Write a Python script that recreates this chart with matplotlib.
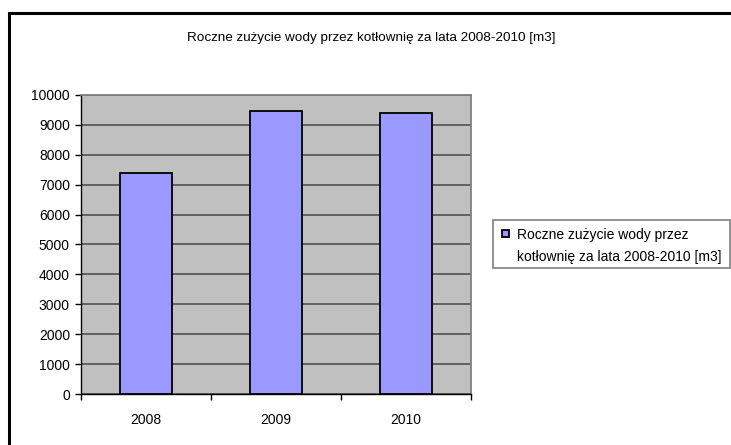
import matplotlib
matplotlib.use("Agg")
import matplotlib.pyplot as plt
from matplotlib.patches import Rectangle

plt.rcParams['font.family'] = ['Liberation Sans', 'DejaVu Sans']

years = ["2008", "2009", "2010"]
usage = [7380, 9460, 9400]
title = "Roczne zużycie wody przez kotłownię za lata 2008-2010 [m3]"
legend_lines = ["Roczne zużycie wody przez", "kotłownię za lata 2008-2010 [m3]"]
y_ticks = list(range(0, 10001, 1000))
bar_color = "#9999ff"

W, H = 731, 445
fig = plt.figure(figsize=(W / 100, H / 100), dpi=100)
fig.patch.set_facecolor("white")


def px(x0, y0):
    """Pixel position (from top-left) to figure fraction."""
    return x0 / W, 1 - y0 / H


# outer chart frame (only top and left edges fall inside the image)
fig.add_artist(Rectangle((9 / W, -0.2), 1.5, 1 - 13 / H + 0.2,
                         transform=fig.transFigure, fill=False,
                         edgecolor="black", linewidth=2.2, clip_on=False))

ax = fig.add_axes([81 / W, 1 - 394 / H, (471 - 81) / W, (394 - 95) / H])
ax.set_facecolor("#c0c0c0")

x = list(range(len(years)))
ax.bar(x, usage, width=0.4, color=bar_color, edgecolor="black",
       linewidth=1.3, zorder=3)

ax.set_xlim(-0.5, len(years) - 0.5)
ax.set_ylim(0, 10000)
ax.set_yticks(y_ticks)
ax.set_yticklabels([str(v) for v in y_ticks], fontsize=10)
ax.yaxis.grid(True, color="#5a5a5a", linewidth=1.3, zorder=1)
ax.set_axisbelow(True)

ax.set_xticks(x)
ax.set_xticklabels(years, fontsize=10)
ax.tick_params(axis="x", length=0, pad=13.5)
ax.set_xticks([i + 0.5 for i in range(-1, len(years))], minor=True)
ax.tick_params(axis="x", which="minor", length=4, width=1, color="black",
               direction="out")
ax.tick_params(axis="y", length=4, width=1, color="black", direction="out", pad=4)

for side in ("top", "right"):
    ax.spines[side].set_color("#808080")
    ax.spines[side].set_linewidth(1.3)
for side in ("left", "bottom"):
    ax.spines[side].set_color("black")
    ax.spines[side].set_linewidth(1.0)

fig.text(*px(371, 38), title, ha="center", va="center", fontsize=9.7)

# legend box with a square key aligned to the first text line
bx0, by0 = px(493, 268)
fig.add_artist(Rectangle((bx0, by0), (730 - 493) / W, (268 - 220) / H,
                         transform=fig.transFigure, facecolor="white",
                         edgecolor="#808080", linewidth=1.2))
kx0, ky0 = px(502, 237)
fig.add_artist(Rectangle((kx0, ky0), 7 / W, 7 / H,
                         transform=fig.transFigure, facecolor=bar_color,
                         edgecolor="black", linewidth=1.3))
for line, yc in zip(legend_lines, (235, 257)):
    fig.text(*px(517, yc), line, ha="left", va="center", fontsize=10)

fig.savefig("out.png", dpi=100)
